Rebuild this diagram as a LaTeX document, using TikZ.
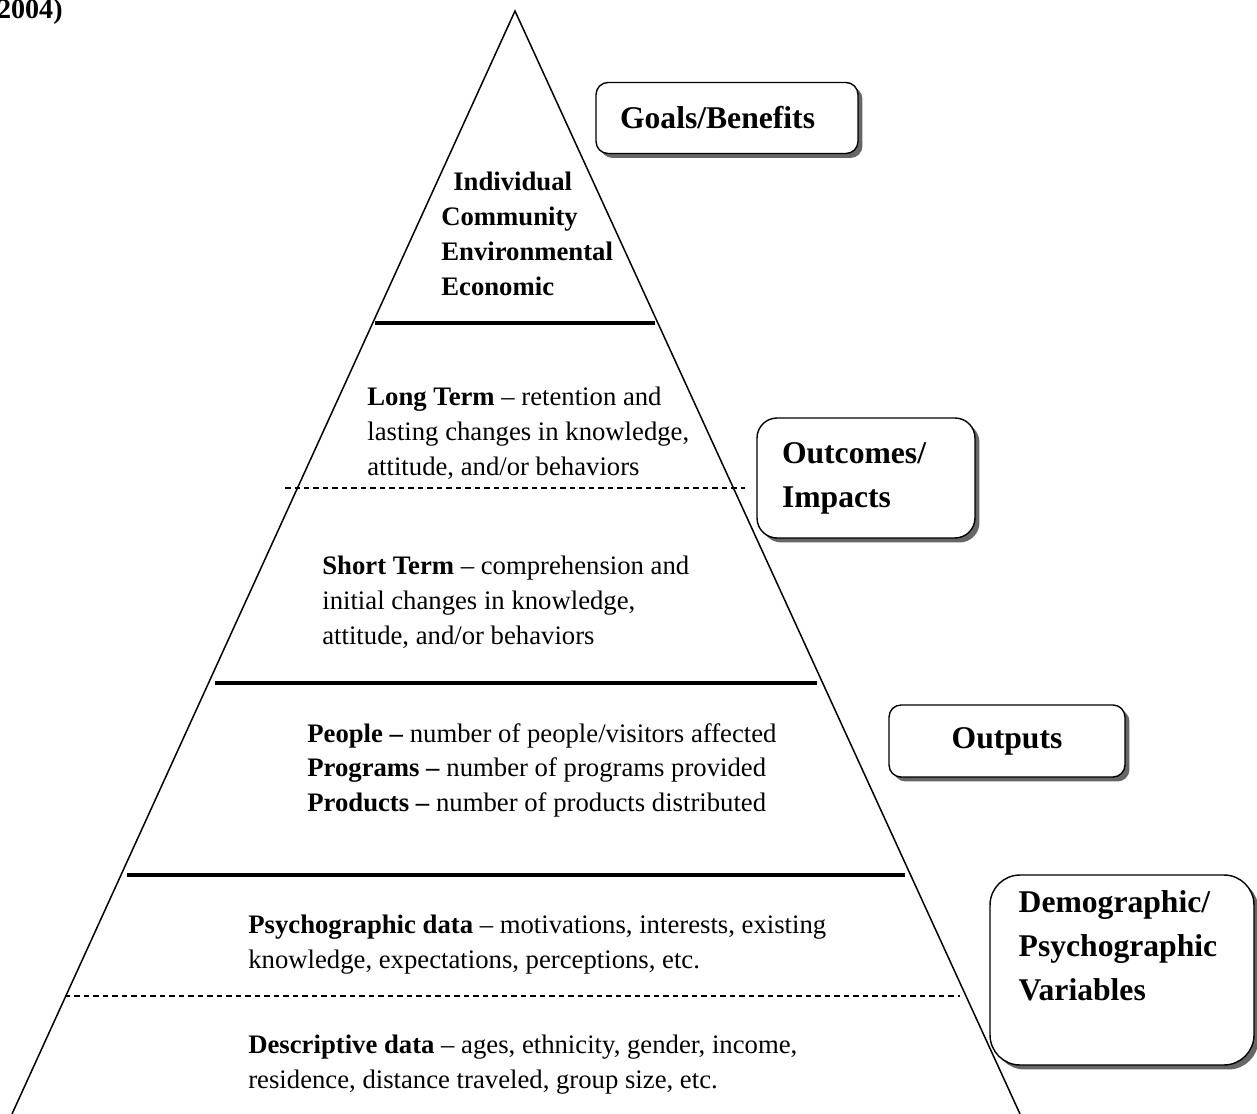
\documentclass[tikz,border=0pt]{standalone}
\usepackage{fontspec}
\setmainfont{Liberation Serif}
\usetikzlibrary{calc,shadows}
\tikzset{
  tier/.style={line width=2.3pt},
  subtier/.style={line width=0.6pt, dash pattern=on 0.11cm off 0.08cm},
  tagbox/.style={draw, line width=0.8pt, fill=white, rounded corners=0.24cm,
    drop shadow={shadow xshift=0.09cm, shadow yshift=-0.09cm, fill=black!60, opacity=1},
    font=\fontsize{18}{25}\selectfont\bfseries, align=left, inner xsep=0.48cm},
  tagtext/.style={anchor=north west, inner sep=0pt, align=left, font=\fontsize{18}{25}\selectfont\bfseries},
  tiertext/.style={anchor=north west, inner sep=0pt, align=left, font=\fontsize{15.2}{19.8}\selectfont}
}
\begin{document}
\begin{tikzpicture}[x=0.02cm, y=-0.02cm]
\useasboundingbox (0,0) rectangle (1257,1114);
% pyramid
\coordinate (apex) at (515,11);
\coordinate (baseL) at (12,1114);
\coordinate (baseR) at (1020,1114);
\draw [line width=0.85pt] (baseL) -- (apex) -- (baseR);
% tier lines
\draw [tier] (375,323) -- (655,323);
\draw [subtier] (285,488) -- (745,488);
\draw [tier] (215,683) -- (817,683);
\draw [tier] (127,875) -- (905,875);
\draw [subtier] (65,996) -- (960,996);
% caption fragment
\node (year) [anchor=base east, inner sep=0pt, font=\fontsize{16}{20}\selectfont\bfseries] at (63,19) {2004)};
% tier texts
\node (goals) [tiertext, font=\fontsize{15.2}{19.8}\selectfont\bfseries] at (441,172)
{\hspace*{0.24cm}Individual\\Community\\Environmental\\Economic};
\node (longterm) [tiertext] at (367,387)
{\textbf{Long Term} -- retention and\\lasting changes in knowledge,\\attitude, and/or behaviors};
\node (shortterm) [tiertext] at (322,556)
{\textbf{Short Term} -- comprehension and\\initial changes in knowledge,\\attitude, and/or behaviors};
\node (outputs) [tiertext] at (307,723)
{\textbf{People --} number of people/visitors affected\\
\textbf{Programs --} number of programs provided\\
\textbf{Products --} number of products distributed};
\node (psycho) [tiertext] at (248,915)
{\textbf{Psychographic data} -- motivations, interests, existing\\knowledge, expectations, perceptions, etc.};
\node (descr) [tiertext] at (248,1035)
{\textbf{Descriptive data} -- ages, ethnicity, gender, income,\\residence, distance traveled, group size, etc.};
% side boxes
\node (goalsbox) [tagbox, text width=4.28cm, minimum height=1.42cm] at (727,118) {Goals/Benefits};
\node (outcomebox) [tagbox, rounded corners=0.4cm, inner xsep=0.5cm, text width=3.36cm, minimum height=2.4cm] at (866,478) {Outcomes/\\Impacts};
\node (outputbox) [tagbox, align=center, text width=3.76cm, minimum height=1.44cm] at (1007,741) {Outputs};
\node (demobox) [tagbox, rounded corners=0.6cm, minimum width=5.28cm, minimum height=3.8cm] at (1122,970) {};
\node (demotext) [tagtext] at ($(demobox.north west)+(29,16)$) {Demographic/\\Psychographic\\Variables};
\end{tikzpicture}
\end{document}
